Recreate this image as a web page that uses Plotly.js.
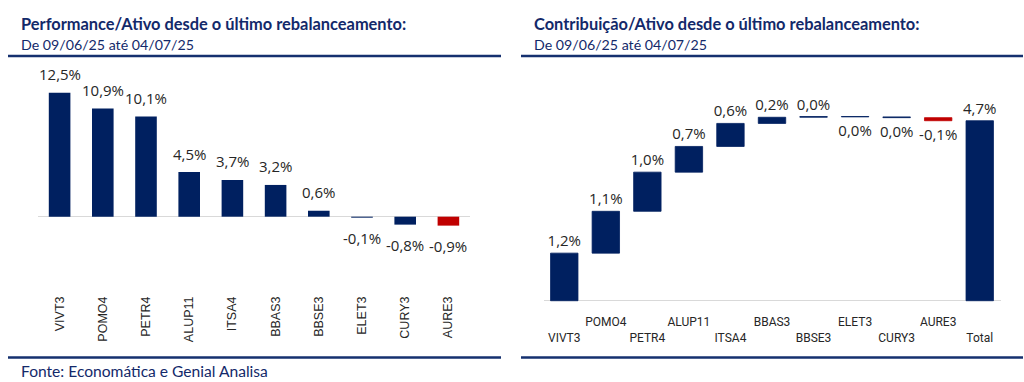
<!DOCTYPE html>
<html>
<head>
<meta charset="utf-8">
<script src="https://cdn.plot.ly/plotly-3.0.1.min.js"></script>
<style>
  html, body { margin: 0; padding: 0; background: #ffffff; }
  #chart { width: 1024px; height: 382px; }
</style>
</head>
<body>
<div id="chart"></div>
<script>
// ---- data ----
const tickers = ['VIVT3', 'POMO4', 'PETR4', 'ALUP11', 'ITSA4', 'BBAS3', 'BBSE3', 'ELET3', 'CURY3', 'AURE3'];
const performance = [12.5, 10.9, 10.1, 4.5, 3.7, 3.2, 0.6, -0.1, -0.8, -0.9];
const contribution = [1.24, 1.09, 1.02, 0.67, 0.60, 0.16, 0.02, -0.01, -0.02, -0.08];
const totalLabel = 'Total';
const leftTitle = 'Performance/Ativo desde o último rebalanceamento:';
const rightTitle = 'Contribuição/Ativo desde o último rebalanceamento:';
const periodText = 'De 09/06/25 até 04/07/25';
const sourceText = 'Fonte: Economática e Genial Analisa';

// ---- styles ----
const NAVY = '#002060';
const RED = '#c00000';
const TITLE = '#13296a';
const LABEL = '#262626';
const W = 1024, H = 382;
const px = x => x / W;
const py = y => 1 - y / H;

function fmt(v) {
  const r = Math.round(v * 10) / 10 + 0;
  return r.toFixed(1).replace('.', ',') + '%';
}

// left chart
const minIdx = performance.indexOf(Math.min(...performance));
const leftColors = performance.map((v, i) => i === minIdx ? RED : NAVY);

const leftTrace = {
  type: 'bar', x: tickers, y: performance, width: 0.5,
  marker: { color: leftColors },
  xaxis: 'x', yaxis: 'y', hoverinfo: 'skip'
};

// right chart (waterfall drawn as floating bars)
const total = contribution.reduce((a, b) => a + b, 0);
const bases = [];
let cum = 0;
contribution.forEach(v => { bases.push(cum); cum += v; });
const wfX = tickers.concat([totalLabel]);
const wfY = contribution.concat([total]);
const wfBase = bases.concat([0]);
const wfColors = wfY.map(v => (Math.round(v * 10) / 10) < 0 ? RED : NAVY);

const rightTrace = {
  type: 'bar', x: wfX, y: wfY, base: wfBase, width: 0.66,
  marker: { color: wfColors, line: { color: wfColors, width: 0.8 } },
  text: wfY.map(fmt), textposition: 'outside', cliponaxis: false, constraintext: 'none',
  textfont: { family: 'Open Sans', size: 15, color: LABEL },
  xaxis: 'x2', yaxis: 'y2', hoverinfo: 'skip'
};

const ticktext2 = wfX.map((c, i) => i % 2 === 0 ? '\u00a0<br>' + c : c);

const annotations = [];
performance.forEach((v, i) => {
  annotations.push({
    x: tickers[i], y: v, xref: 'x', yref: 'y', text: fmt(v), showarrow: false,
    yanchor: v >= 0 ? 'bottom' : 'top', yshift: v >= 0 ? 6.5 : -8.5,
    font: { family: 'Open Sans', size: 15, color: LABEL }
  });
});
const txt = (x, y, text, size, bold) => ({
  xref: 'paper', yref: 'paper', x: px(x), y: py(y), xanchor: 'left', yanchor: 'middle',
  text: bold ? '<b>' + text + '</b>' : text, showarrow: false,
  font: { family: 'Lato', size: size, color: TITLE }
});
annotations.push(txt(19, 24, leftTitle, 16.4, true));
annotations.push(txt(19, 45, periodText, 14.2, false));
annotations.push(txt(532, 24, rightTitle, 16.4, true));
annotations.push(txt(532, 45, periodText, 14.2, false));
annotations.push(txt(19, 371, sourceText, 15.6, false));

const rule = (x0, x1, y) => ({
  type: 'line', xref: 'paper', yref: 'paper', x0: px(x0), x1: px(x1), y0: py(y), y1: py(y),
  line: { color: '#15306f', width: 2.5 }
});

const layout = {
  width: W, height: H,
  margin: { l: 0, r: 0, t: 0, b: 0 },
  paper_bgcolor: '#ffffff', plot_bgcolor: 'rgba(0,0,0,0)',
  showlegend: false,
  xaxis: {
    domain: [px(38), px(470)], range: [-0.5, 9.5], type: 'category',
    showgrid: false, showline: false, ticks: '', tickangle: -90,
    tickfont: { family: 'Liberation Sans', size: 12.5, color: LABEL }, fixedrange: true
  },
  yaxis: {
    domain: [py(293), py(62)], range: [-7.69, 15.59],
    showgrid: false, showticklabels: false, zeroline: true,
    zerolinecolor: '#d9d9d9', zerolinewidth: 1.5, fixedrange: true
  },
  xaxis2: {
    domain: [px(543.5), px(1000.5)], range: [-0.5, 10.5], type: 'category',
    anchor: 'y2', showgrid: false, showline: false, ticks: '',
    tickmode: 'array', tickvals: wfX, ticktext: ticktext2, tickangle: 0,
    tickfont: { family: 'Roboto', size: 12, color: LABEL }, fixedrange: true
  },
  yaxis2: {
    domain: [py(313), py(100)], range: [-0.32, 5.23], anchor: 'x2',
    showgrid: false, showticklabels: false, zeroline: true,
    zerolinecolor: '#d9d9d9', zerolinewidth: 1.5, fixedrange: true
  },
  annotations: annotations,
  shapes: [rule(8, 501, 56), rule(521, 1023, 56), rule(8, 501, 357.5), rule(521, 1023, 357.5)]
};

Plotly.newPlot('chart', [leftTrace, rightTrace], layout, { displayModeBar: false, staticPlot: true });
</script>
</body>
</html>
